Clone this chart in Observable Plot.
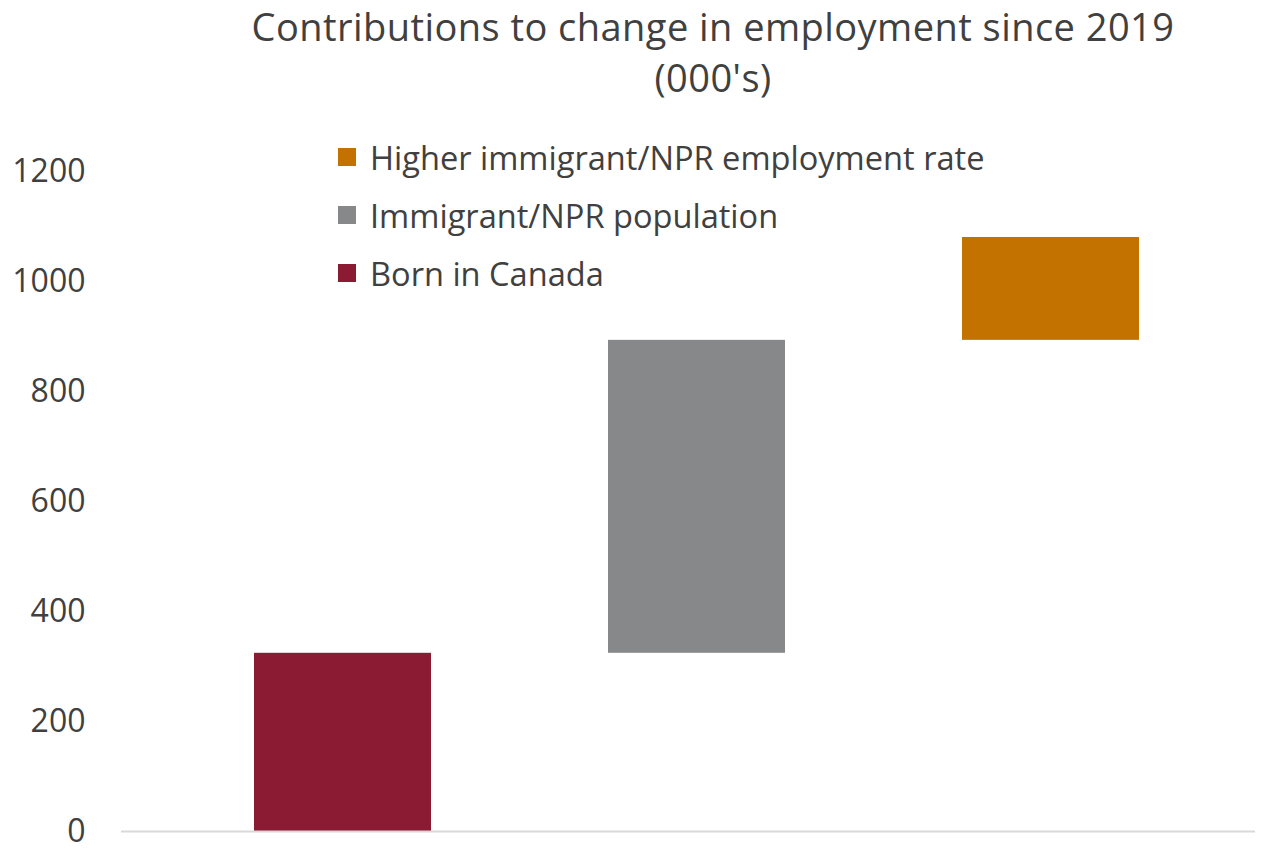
<!DOCTYPE html>
<html>
<head>
<meta charset="utf-8">
<script src="https://cdn.jsdelivr.net/npm/d3@7"></script>
<script src="https://cdn.jsdelivr.net/npm/@observablehq/plot@0.6"></script>
<style>
  html, body { margin: 0; padding: 0; background: #fff; }
  #wrap { position: relative; width: 1268px; height: 854px; font-family: "Open Sans", sans-serif; color: #404040; }
  #title { position: absolute; left: 158px; top: 0; width: 1110px; text-align: center; font-size: 38px; line-height: 53px; letter-spacing: 0.45px; }
  #title .l2 { margin-top: -2px; }
  #legend { position: absolute; left: 338px; top: 128px; font-size: 32.6px; }
  .li { display: flex; align-items: center; height: 58px; }
  .sw { width: 18px; height: 18px; margin-right: 14px; flex: none; }
  #chart { position: absolute; left: 0; top: 0; }
</style>
</head>
<body>
<div id="wrap">
  <div id="chart"></div>
  <div id="title"><div>Contributions to change in employment since 2019</div><div class="l2">(000's)</div></div>
  <div id="legend"></div>
</div>
<script>
const categories = ["Born in Canada", "Immigrant/NPR population", "Higher immigrant/NPR employment rate"];
const contributions = [324, 569, 187];
const colors = ["#8B1A33", "#87888A", "#C37200"];
const yTicks = [0, 200, 400, 600, 800, 1000, 1200];

let run = 0;
const rows = categories.map((c, i) => {
  const start = run;
  run += contributions[i];
  return {category: c, y1: start, y2: run};
});

const chart = Plot.plot({
  width: 1268,
  height: 854,
  marginLeft: 121,
  marginRight: 13,
  marginTop: 171,
  marginBottom: 23,
  style: {fontFamily: "Open Sans, sans-serif", color: "#404040", background: "white"},
  x: {domain: categories, paddingInner: 0.5, paddingOuter: 0.35, align: 0.536, axis: null},
  y: {domain: [0, 1200], label: null, axis: null},
  color: {domain: categories, range: colors},
  marks: [
    Plot.axisY({ticks: yTicks, tickSize: 0, tickPadding: 36, tickFormat: d => String(d), fontSize: 32, fill: "#404040", label: null}),
    Plot.barY(rows, {x: "category", y1: "y1", y2: "y2", fill: "category"}),
    Plot.ruleY([0], {stroke: "#d9d9d9", strokeWidth: 2})
  ]
});
document.getElementById("chart").appendChild(chart);

const legend = document.getElementById("legend");
[2, 1, 0].forEach(i => {
  const d = document.createElement("div");
  d.className = "li";
  d.innerHTML = `<div class="sw" style="background:${colors[i]}"></div><span>${categories[i]}</span>`;
  legend.appendChild(d);
});
</script>
</body>
</html>
